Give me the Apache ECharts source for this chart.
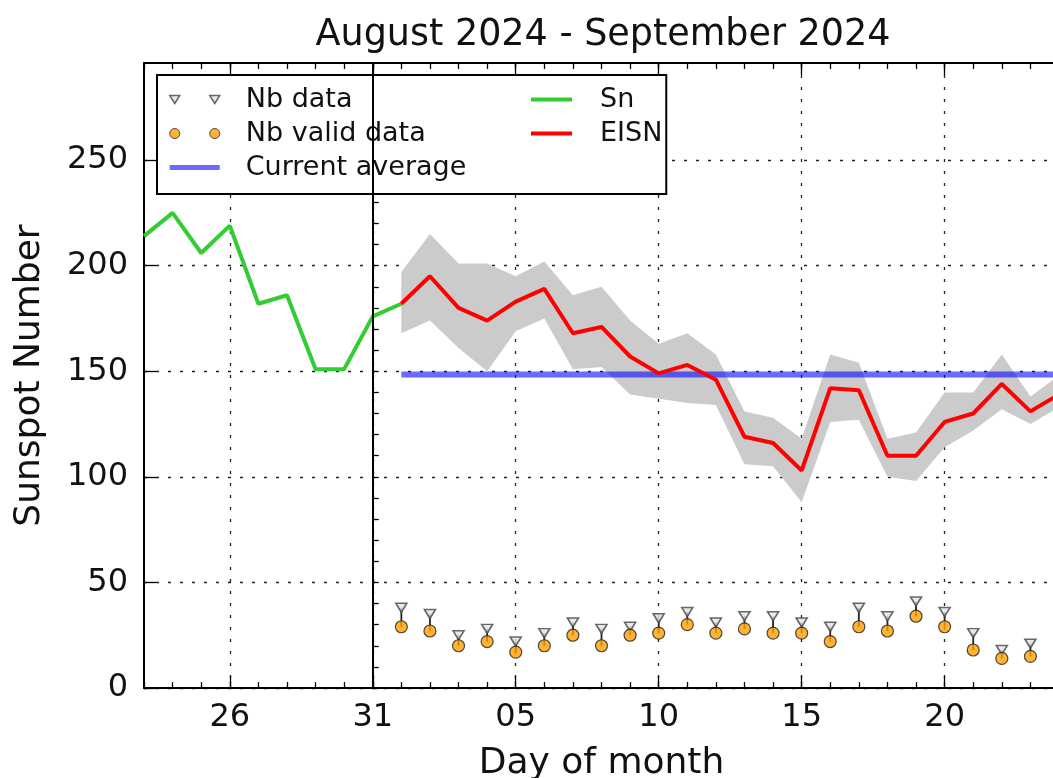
<!DOCTYPE html>
<html>
<head>
<meta charset="utf-8">
<title>Sunspot Number — August/September 2024</title>
<script src="https://cdn.jsdelivr.net/npm/echarts@6/dist/echarts.min.js"></script>
<style>
  html, body { margin: 0; padding: 0; background: #ffffff; overflow: hidden; }
  #chart { width: 1053px; height: 778px; }
</style>
</head>
<body>
<div id="chart"></div>
<script>
// ---- Data -------------------------------------------------------------
// Daily sunspot number (Sn), previous month
const snDates = ['2024-08-23', '2024-08-24', '2024-08-25', '2024-08-26', '2024-08-27',
                 '2024-08-28', '2024-08-29', '2024-08-30', '2024-08-31', '2024-09-01'];
const snValues = [214, 225, 206, 219, 182, 186, 151, 151, 176, 182];

// Estimated International Sunspot Number (EISN), current month
const eisnDates = ['2024-09-01', '2024-09-02', '2024-09-03', '2024-09-04', '2024-09-05', '2024-09-06',
                   '2024-09-07', '2024-09-08', '2024-09-09', '2024-09-10', '2024-09-11', '2024-09-12',
                   '2024-09-13', '2024-09-14', '2024-09-15', '2024-09-16', '2024-09-17', '2024-09-18',
                   '2024-09-19', '2024-09-20', '2024-09-21', '2024-09-22', '2024-09-23', '2024-09-24'];
const eisnValues = [182, 195, 180, 174, 183, 189, 168, 171, 157, 149, 153, 146,
                    119, 116, 103, 142, 141, 110, 110, 126, 130, 144, 131, 139];
// EISN uncertainty range (lower / upper bound)
const eisnLow  = [168, 174, 161, 150, 169, 175, 151, 152, 139, 137, 135, 134,
                  106, 105, 88, 126, 127, 100, 98, 114, 122, 132, 125, 133];
const eisnHigh = [197, 215, 201, 201, 195, 202, 186, 190, 174, 163, 168, 158,
                  131, 128, 118, 158, 154, 118, 121, 140, 140, 158, 138, 148];

// Number of stations: all reports and valid reports
const stationDates = eisnDates.slice(0, 23);
const nbData  = [38, 35, 25, 28, 22, 26, 31, 28, 29, 33, 36, 31, 34, 34, 31, 29, 38, 34, 41, 36, 26, 18, 21];
const nbValid = [29, 27, 20, 22, 17, 20, 25, 20, 25, 26, 30, 26, 28, 26, 26, 22, 29, 27, 34, 29, 18, 14, 15];

// Current monthly average
const averageDates = ['2024-09-01', '2024-09-24'];
const averageValue = 148.5;

// Month boundary marker
const boundaryDate = '2024-08-31';

// Axes
const xRange = ['2024-08-23', '2024-09-24'];
const xTickDates = ['2024-08-26', '2024-08-31', '2024-09-05', '2024-09-10', '2024-09-15', '2024-09-20'];
const yTicks = [0, 50, 100, 150, 200, 250];
const yMax = 296;

// ---- Helpers ----------------------------------------------------------
const DAY = 864e5;
const ORIGIN = Date.UTC(2024, 7, 31);
function dayIndex(iso) { return (Date.parse(iso + 'T00:00:00Z') - ORIGIN) / DAY; }
function dayLabel(v) {
  const d = new Date(ORIGIN + Math.round(v) * DAY).getUTCDate();
  return String(d).padStart(2, '0');
}

const xMin = dayIndex(xRange[0]);
const xMax = dayIndex(xRange[1]);
const xMajor = xTickDates.map(dayIndex);
const xMinor = [];
for (let d = xMin; d <= xMax; d++) xMinor.push(d);
const yMinor = [];
for (let v = 0; v <= yMax; v += 10) yMinor.push(v);

const FONT = 'DejaVu Sans';
const INK = '#111111';
const gridDots = { color: '#222222', width: 1.3, type: [3, 9] };

function xAxisDef(position, values, length, withLabels, withLine, withSplit) {
  return {
    type: 'value', position: position, min: xMin, max: xMax,
    axisLine: { show: withLine, onZero: false, lineStyle: { color: '#000', width: 2 } },
    axisTick: { show: true, inside: true, length: length, customValues: values,
                lineStyle: { color: '#000', width: 1.3 } },
    axisLabel: withLabels ? {
      show: true, customValues: values, formatter: dayLabel, margin: 14,
      fontFamily: FONT, fontSize: 32, color: INK
    } : { show: false },
    splitLine: { show: withSplit, lineStyle: gridDots },
    minorTick: { show: false }, minorSplitLine: { show: false }
  };
}

// ---- Series data ------------------------------------------------------
const snData = snDates.map((d, i) => [dayIndex(d), snValues[i]]);
const eisnData = eisnDates.map((d, i) => [dayIndex(d), eisnValues[i]]);
const bandData = eisnDates.map((d, i) => [dayIndex(d), eisnLow[i], eisnHigh[i]]);
const nbData2 = stationDates.map((d, i) => [dayIndex(d), nbData[i]]);
const nbValid2 = stationDates.map((d, i) => [dayIndex(d), nbValid[i]]);
const avgData = averageDates.map(d => [dayIndex(d), averageValue]);
const stemData = stationDates.map((d, i) => [dayIndex(d), nbData[i], nbValid[i]]);

const triPath = 'path://M0,0 L10,0 L5,8 Z';
const triIcon = 'path://M0,0 L10,0 L5,8 Z M40,0 L50,0 L45,8 Z';
const dotIcon = 'path://M0,5 A5,5 0 1 1 10,5 A5,5 0 1 1 0,5 Z M40,5 A5,5 0 1 1 50,5 A5,5 0 1 1 40,5 Z';
const barIcon = 'path://M0,0 L50,0 L50,5 L0,5 Z';
const barIcon2 = 'path://M0,0 L41,0 L41,4 L0,4 Z';

const COL_SN = '#33cc33';
const COL_EISN = '#ff0000';
const COL_AVG = 'rgba(0, 0, 255, 0.58)';
const COL_BAND = '#cbcbcb';
const COL_DOT = '#ff9f00';

const chart = echarts.init(document.getElementById('chart'), null, { renderer: 'canvas' });

chart.setOption({
  animation: false,
  backgroundColor: '#ffffff',
  textStyle: { fontFamily: FONT },
  title: {
    text: 'August 2024 - September 2024',
    left: 603, top: 17, padding: 0, textAlign: 'center',
    textStyle: { fontFamily: FONT, fontSize: 36.5, fontWeight: 'normal', color: INK }
  },
  grid: { left: 144, right: -6, top: 63, bottom: 90, outerBoundsMode: 'none', containLabel: false },
  legend: [
    {
      orient: 'vertical', left: 157, top: 75,
      padding: [11, 200, 13, 12], itemGap: 7,
      itemWidth: 50, itemHeight: 14,
      backgroundColor: '#ffffff', borderColor: '#000000', borderWidth: 2,
      selectedMode: false,
      textStyle: { fontFamily: FONT, fontSize: 27, color: INK, padding: [0, 0, 0, 21] },
      data: [
        { name: 'Nb data', icon: triIcon,
          itemStyle: { color: '#e4e4e4', borderColor: '#444444', borderWidth: 1.5 } },
        { name: 'Nb valid data', icon: dotIcon,
          itemStyle: { color: COL_DOT, borderColor: '#222222', borderWidth: 1 } },
        { name: 'Current average', icon: barIcon,
          itemStyle: { color: COL_AVG, borderWidth: 0 } }
      ]
    },
    {
      orient: 'vertical', left: 531, top: 86,
      padding: 0, itemGap: 7,
      itemWidth: 41, itemHeight: 14,
      selectedMode: false,
      textStyle: { fontFamily: FONT, fontSize: 27, color: INK, padding: [0, 0, 0, 23] },
      data: [
        { name: 'Sn', icon: barIcon2, itemStyle: { color: COL_SN, borderWidth: 0 } },
        { name: 'EISN', icon: barIcon2, itemStyle: { color: COL_EISN, borderWidth: 0 } }
      ]
    }
  ],
  xAxis: [
    Object.assign(xAxisDef('bottom', xMajor, 12, true, true, true), {
      name: 'Day of month', nameLocation: 'middle', nameGap: 58,
      nameTextStyle: { fontFamily: FONT, fontSize: 36, color: INK }
    }),
    xAxisDef('bottom', xMinor, 6, false, false, false),
    xAxisDef('top', xMajor, 12, false, true, false),
    xAxisDef('top', xMinor, 6, false, false, false)
  ],
  yAxis: [
    {
      type: 'value', position: 'left', min: 0, max: yMax,
      name: 'Sunspot Number', nameLocation: 'middle', nameGap: 96, nameRotate: 90,
      nameTextStyle: { fontFamily: FONT, fontSize: 36, color: INK },
      axisLine: { show: true, onZero: false, lineStyle: { color: '#000', width: 2 } },
      axisTick: { show: true, inside: true, length: 12, customValues: yTicks,
                  lineStyle: { color: '#000', width: 1.3 } },
      axisLabel: { show: true, customValues: yTicks, margin: 16,
                   fontFamily: FONT, fontSize: 32, color: INK },
      splitLine: { show: true, lineStyle: gridDots }
    },
    {
      type: 'value', position: 'left', min: 0, max: yMax,
      axisLine: { show: false },
      axisTick: { show: true, inside: true, length: 6, customValues: yMinor,
                  lineStyle: { color: '#000', width: 1.3 } },
      axisLabel: { show: false },
      splitLine: { show: false }
    }
  ],
  series: [
    {
      // EISN uncertainty band: one polygon through the upper bounds and back along the lower bounds
      name: 'EISN range', type: 'custom', data: bandData, z: 1, silent: true, clip: true,
      renderItem: function (params, api) {
        if (params.dataIndex !== 0) return null;
        const upper = bandData.map(p => api.coord([p[0], p[2]]));
        const lower = bandData.map(p => api.coord([p[0], p[1]])).reverse();
        return {
          type: 'polygon',
          shape: { points: upper.concat(lower) },
          style: { fill: COL_BAND, stroke: null }
        };
      }
    },
    {
      name: 'Current average', type: 'line', data: avgData,
      symbol: 'none', lineStyle: { color: COL_AVG, width: 6 }, itemStyle: { color: COL_AVG }, z: 3
    },
    {
      name: 'Sn', type: 'line', data: snData,
      symbol: 'none', lineStyle: { color: COL_SN, width: 4 }, itemStyle: { color: COL_SN }, z: 4,
      markLine: {
        silent: true, symbol: 'none', label: { show: false },
        lineStyle: { color: '#000000', width: 2, type: 'solid' },
        data: [{ xAxis: dayIndex(boundaryDate) }]
      }
    },
    {
      name: 'EISN', type: 'line', data: eisnData,
      symbol: 'none', lineStyle: { color: COL_EISN, width: 4 }, itemStyle: { color: COL_EISN }, z: 5
    },
    {
      name: 'Nb spread', type: 'custom', data: stemData, z: 6, silent: true,
      renderItem: function (params, api) {
        const top = api.coord([api.value(0), api.value(1)]);
        const bot = api.coord([api.value(0), api.value(2)]);
        return {
          type: 'line',
          shape: { x1: top[0], y1: top[1], x2: bot[0], y2: bot[1] },
          style: { stroke: '#222222', lineWidth: 1.8 }
        };
      }
    },
    {
      name: 'Nb data', type: 'scatter', data: nbData2,
      symbol: triPath, symbolSize: [11, 9], z: 7,
      itemStyle: { color: '#e4e4e4', borderColor: '#444444', borderWidth: 1.6 }
    },
    {
      name: 'Nb valid data', type: 'scatter', data: nbValid2,
      symbol: 'circle', symbolSize: 12, z: 8,
      itemStyle: { color: COL_DOT, borderColor: '#222222', borderWidth: 1.2 }
    }
  ]
});
</script>
</body>
</html>
